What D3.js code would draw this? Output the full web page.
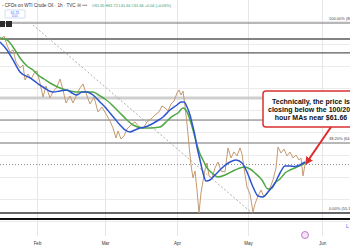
<!DOCTYPE html>
<html>
<head>
<meta charset="utf-8">
<script src="https://cdn.jsdelivr.net/npm/d3@7"></script>
<style>
  html, body { margin: 0; padding: 0; background: #fff; }
  svg { display: block; font-family: Arial, "Liberation Sans", sans-serif; }
</style>
</head>
<body>
<svg id="chart" width="350" height="250"></svg>
<script>
// x values are days of 2025 (Jan 1 = 0), y values are WTI prices in $
const priceDay = [15.77, 17.41, 18.65, 19.88, 21.12, 22.35, 24.00, 25.24, 26.06, 27.29, 28.53, 30.18, 31.00,
    32.24, 33.47, 34.71, 36.35, 37.59, 39.24, 40.47, 41.71, 42.94, 44.59, 45.82, 47.47, 48.71, 49.94, 51.18,
    52.82, 54.47, 56.12, 57.76, 59.43, 61.15, 62.44, 63.74, 64.60, 65.89, 67.18, 68.47, 70.19, 71.92, 73.64,
    75.36, 77.08, 78.81, 80.53, 82.25, 83.54, 84.83, 86.13, 87.42, 88.71, 90.00, 90.85, 91.69, 92.54, 93.38,
    94.23, 95.07, 95.92, 96.76, 97.61, 98.45, 99.30, 100.14, 100.99, 101.83, 102.68, 103.52, 104.79, 106.06,
    107.32, 108.59, 110.28, 111.55, 112.82, 114.08, 115.35, 116.62, 117.47, 118.31, 119.58, 120.84, 122.09,
    122.93, 124.19, 125.45, 126.70, 127.96, 129.22, 130.47, 131.73, 132.57, 133.82, 135.08, 136.34, 137.59,
    138.85, 140.11, 141.36, 142.20, 143.04, 143.88];
const priceVal = [78.48, 79.02, 77.80, 76.86, 77.13, 75.51, 74.70, 75.10, 73.08, 73.89, 73.21, 74.16, 74.29,
    72.67, 70.78, 72.27, 70.65, 71.46, 72.13, 73.21, 71.73, 69.97, 70.92, 69.97, 71.19, 72.00, 72.54, 71.32,
    69.84, 70.78, 68.76, 69.43, 68.49, 67.54, 66.60, 65.25, 66.19, 65.11, 65.52, 66.46, 67.00, 67.41, 66.73,
    66.46, 67.41, 67.81, 68.35, 68.76, 69.57, 69.30, 68.89, 69.84, 70.24, 71.32, 71.73, 71.05, 71.59, 69.57,
    67.14, 64.30, 61.60, 59.85, 60.79, 58.23, 55.12, 57.82, 59.44, 60.93, 61.87, 60.12, 59.85, 61.20,
    62.01, 60.79, 60.66, 63.90, 62.55, 63.36, 62.82, 63.90, 63.09, 61.20, 58.63, 57.69, 55.25,
    56.34, 57.42, 58.23, 57.28, 57.69, 58.50, 59.58, 61.20, 64.03, 63.22, 63.76, 62.82, 63.36,
    62.55, 62.95, 62.28, 62.55, 60.12, 61.66];

// 100 hour moving average (blue)
const ma100Day = [15.77, 18.65, 21.12, 24.00, 28.12, 31.00, 33.47, 37.59, 40.47, 43.35, 45.41, 47.47, 49.53,
    51.59, 54.06, 56.94, 59.00, 61.15, 63.31, 65.46, 67.61, 69.76, 71.92, 74.07, 76.22, 78.38, 81.39, 83.97,
    86.99, 90.00, 91.69, 92.96, 94.23, 95.49, 96.34, 97.61, 98.45, 99.72, 100.99, 102.25, 103.94, 106.06,
    109.01, 112.39, 114.93, 117.47, 119.58, 122.09, 124.19, 126.28, 128.38, 131.31, 133.41, 135.50, 137.59,
    139.69, 141.78, 143.88];
const ma100Val = [78.21, 77.13, 75.78, 74.16, 73.35, 72.67, 72.13, 71.46, 71.59, 71.73, 71.32, 71.05, 71.46,
    71.46, 71.05, 70.11, 69.43, 68.62, 67.81, 67.00, 66.33, 66.06, 66.33, 66.60, 66.73, 67.00, 67.54, 68.08,
    69.03, 69.70, 70.11, 70.11, 69.43, 68.35, 67.27, 65.52, 64.03, 62.28, 60.52, 59.44, 59.58, 60.25,
    61.20, 62.01, 62.28, 61.87, 60.66, 58.63, 57.42, 57.28, 57.96, 59.17, 60.52, 61.47, 61.47,
    61.40, 61.60, 62.01];

// 200 hour moving average (green)
const ma200Day = [15.77, 18.65, 21.12, 24.00, 26.88, 29.35, 31.41, 33.88, 36.35, 40.47, 44.59, 47.47, 50.76,
    54.06, 56.94, 59.00, 61.15, 63.31, 65.46, 68.47, 71.06, 75.36, 78.38, 82.68, 85.69, 88.28, 90.42, 92.54,
    94.23, 95.49, 96.76, 98.45, 99.72, 100.99, 102.68, 104.79, 107.32, 110.28, 114.51, 118.73, 120.84, 122.93,
    125.86, 128.38, 130.05, 131.31, 133.41, 135.50, 137.59, 139.69, 143.88];
const ma200Val = [78.75, 78.48, 77.53, 76.05, 74.97, 74.43, 73.75, 73.21, 72.67, 72.00, 71.59, 71.46, 71.46,
    71.46, 70.92, 70.51, 69.97, 69.30, 68.62, 67.68, 67.00, 66.60, 66.60, 66.73, 67.54, 68.22, 68.62, 69.30,
    68.76, 67.68, 66.33, 64.30, 63.09, 62.28, 61.20, 60.52, 59.98, 60.25, 60.93, 61.33, 61.06, 60.52,
    59.58, 58.36, 58.50, 59.17, 59.71, 60.52, 60.93, 61.20, 61.87];

const monthTicks = [31, 59, 90, 120, 151];
const monthLabels = ["Feb", "Mar", "Apr", "May", "Jun"];
const gridPrices = [54, 57, 60, 63, 66, 69, 72, 75, 78, 81];

// horizontal levels drawn on the chart
const levelPrices = [80.77, 78.61, 76.73, 70.64, 67.67, 64.57, 55.12, 54.31];
const levelLabels = ["100.00% (80.77)", "", "", "", "", "38.20% (64.92)", "0.00% (55.12)", ""];

const trendDay = [29.35, 122.09];
const trendVal = [80.50, 55.00];
const lastDay = 143.88;
const lastPrice = 61.66;

const titleText = "- CFDs on WTI Crude Oil \u00b7 1h \u00b7 TVC";
const ohlcText = "O61.65 H61.72 L61.64 C61.66 +0.04 (+0.06%)";
const noteLines = ["Technically, the price is", "closing below the 100/200", "hour MAs near $61.66"];

const svg = d3.select("#chart");

const x = d3.scaleLinear()
    .domain(monthTicks)
    .range([37, 105, 177, 248, 322]);
const y = d3.scaleLinear()
    .domain([55.12, 80.77])
    .range([213, 23]);

// grid
svg.append("g")
    .selectAll("line")
    .data(gridPrices)
    .enter().append("line")
    .attr("x1", 0).attr("x2", 350)
    .attr("y1", d => Math.round(y(d)) + .5).attr("y2", d => Math.round(y(d)) + .5)
    .attr("stroke", "#ebebeb");
svg.append("g")
    .selectAll("line")
    .data(monthTicks)
    .enter().append("line")
    .attr("x1", d => Math.round(x(d)) + .5).attr("x2", d => Math.round(x(d)) + .5)
    .attr("y1", 0).attr("y2", 236)
    .attr("stroke", "#e6e6e6");

// level lines
const levelStyle = [
    { c: "#707070", w: 1 }, { c: "#5a5a5a", w: 1.3 }, { c: "#5a5a5a", w: 1.3 }, { c: "#cfcfcf", w: 3 },
    { c: "#707070", w: 1 }, { c: "#707070", w: 1 }, { c: "#333", w: 1.5 }, { c: "#111", w: 2 }
];
svg.append("g")
    .selectAll("line")
    .data(levelPrices)
    .enter().append("line")
    .attr("x1", 0).attr("x2", 350)
    .attr("y1", d => y(d)).attr("y2", d => y(d))
    .attr("stroke", (d, i) => levelStyle[i].c)
    .attr("stroke-width", (d, i) => levelStyle[i].w);

svg.append("g")
    .selectAll("text")
    .data(levelPrices)
    .enter().append("text")
    .attr("x", 329)
    .attr("y", d => y(d) - 3)
    .attr("font-size", 4)
    .attr("fill", "#444")
    .text((d, i) => levelLabels[i]);

// current price dotted line
svg.append("line")
    .attr("x1", 0).attr("x2", 350)
    .attr("y1", y(lastPrice)).attr("y2", y(lastPrice))
    .attr("stroke", "#8a8a8a")
    .attr("stroke-dasharray", "1,2");

// trend line
svg.append("line")
    .attr("x1", x(trendDay[0])).attr("y1", y(trendVal[0]))
    .attr("x2", x(trendDay[1])).attr("y2", y(trendVal[1]))
    .attr("stroke", "#999")
    .attr("stroke-width", .8)
    .attr("stroke-dasharray", "2,2");

const line = d3.line()
    .x(d => x(d[0]))
    .y(d => y(d[1]));

svg.append("path")
    .datum(d3.zip(priceDay, priceVal))
    .attr("fill", "none")
    .attr("stroke", "#c49a70")
    .attr("stroke-width", 1)
    .attr("d", line);

const smooth = d3.line()
    .x(d => x(d[0]))
    .y(d => y(d[1]))
    .curve(d3.curveMonotoneX);

svg.append("path")
    .datum(d3.zip(ma200Day, ma200Val))
    .attr("fill", "none")
    .attr("stroke", "#4fa845")
    .attr("stroke-width", 1.5)
    .attr("d", smooth);

svg.append("path")
    .datum(d3.zip(ma100Day, ma100Val))
    .attr("fill", "none")
    .attr("stroke", "#2e55d0")
    .attr("stroke-width", 1.5)
    .attr("d", smooth);

// month axis
const xAxis = svg.append("g")
    .attr("transform", "translate(0,239)")
    .call(d3.axisBottom(x).tickValues(monthTicks).tickFormat((d, i) => monthLabels[i]).tickSize(0));
xAxis.select(".domain").remove();
xAxis.selectAll("text")
    .attr("font-size", 4.5)
    .attr("font-family", "Arial, sans-serif")
    .attr("fill", "#333");

// annotation
svg.append("rect")
    .attr("x", 263).attr("y", 91)
    .attr("width", 96).attr("height", 36)
    .attr("rx", 3)
    .attr("fill", "#fff")
    .attr("stroke", "#d93030")
    .attr("stroke-width", 1.5);
svg.append("g")
    .selectAll("text")
    .data(noteLines)
    .enter().append("text")
    .attr("x", 311)
    .attr("y", (d, i) => 104 + i * 7.8)
    .attr("text-anchor", "middle")
    .attr("font-size", 7)
    .attr("font-weight", "bold")
    .attr("fill", "#111")
    .text(d => d);

svg.append("defs").append("marker")
    .attr("id", "head")
    .attr("viewBox", "0 0 10 10")
    .attr("refX", 8).attr("refY", 5)
    .attr("markerWidth", 4).attr("markerHeight", 4)
    .attr("orient", "auto")
    .append("path")
    .attr("d", "M0,0L10,5L0,10z")
    .attr("fill", "#e02b2b");
svg.append("line")
    .attr("x1", 331).attr("y1", 127)
    .attr("x2", x(lastDay) + 1).attr("y2", y(lastPrice) - 1)
    .attr("stroke", "#e02b2b")
    .attr("stroke-width", 2)
    .attr("marker-end", "url(#head)");

// header
svg.append("text")
    .attr("x", 2).attr("y", 7)
    .attr("font-size", 4.6)
    .attr("fill", "#333")
    .text(titleText);
svg.append("text")
    .attr("x", 77).attr("y", 7)
    .attr("font-size", 4.6)
    .attr("fill", "#777")
    .text("\u229e  \u2022\u2022\u2022");
svg.append("text")
    .attr("x", 92).attr("y", 7)
    .attr("font-size", 3.8)
    .attr("fill", "#3a9a6a")
    .text(ohlcText);

svg.append("rect")
    .attr("x", 5).attr("y", 10).attr("width", 20).attr("height", 8)
    .attr("rx", 1)
    .attr("fill", "#fff").attr("stroke", "#b8c6e8").attr("stroke-width", .6);
svg.append("text")
    .attr("x", 15).attr("y", 13.6)
    .attr("text-anchor", "middle")
    .attr("font-size", 3.4).attr("fill", "#2962ff")
    .text("61.75");
svg.append("text")
    .attr("x", 15).attr("y", 17)
    .attr("text-anchor", "middle")
    .attr("font-size", 3).attr("fill", "#2962ff")
    .text("0.01");

svg.append("rect").attr("x", 0).attr("y", 21).attr("width", 5).attr("height", 6).attr("fill", "#2b2b2b");
svg.append("rect").attr("x", 6).attr("y", 21).attr("width", 6).attr("height", 6).attr("fill", "#2b2b2b");

// small icons
svg.append("circle")
    .attr("cx", 305).attr("cy", 235).attr("r", 3.5)
    .attr("fill", "#f3e5f5").attr("stroke", "#a64dc0").attr("stroke-width", .7);
svg.append("text")
    .attr("x", 346).attr("y", 228)
    .attr("font-size", 5).attr("fill", "#2962ff")
    .text("L");
</script>
</body>
</html>
